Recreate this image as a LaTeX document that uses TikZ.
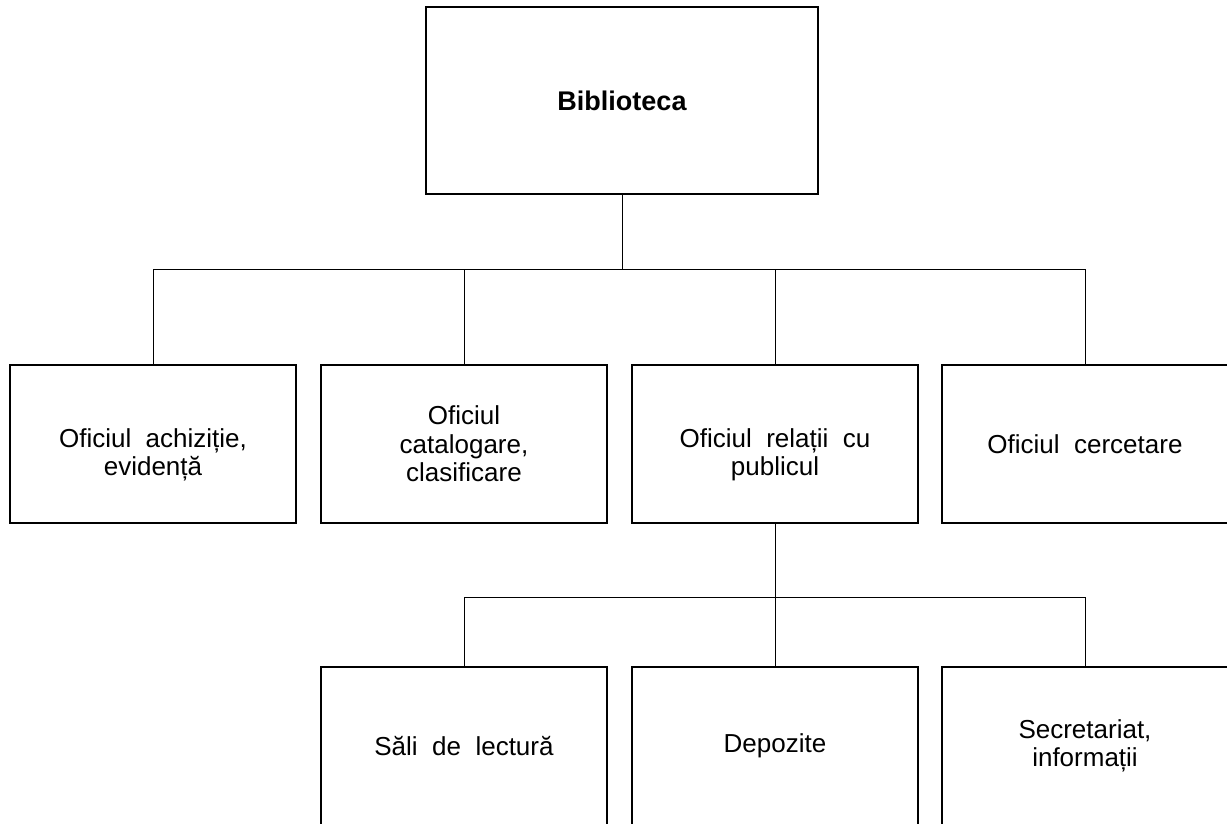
\documentclass[tikz,border=0pt]{standalone}
\usepackage{fontspec}
\setmainfont{Liberation Sans}[WordSpace=2]

\tikzset{
  oficiu/.style={draw, line width=0.6pt, rectangle, inner sep=0pt,
    minimum width=143pt, minimum height=79pt, align=center,
    font=\fontsize{13}{14.2}\selectfont},
  legatura/.style={line width=0.5pt}
}

\begin{document}
\begin{tikzpicture}[x=0.5pt,y=-0.5pt]
        \useasboundingbox (0,0) rectangle (1227,824);

        \node[oficiu, minimum width=196pt, minimum height=93.5pt,
          font=\fontsize{13.5}{15.5}\selectfont\bfseries] (bib) at (622,100.5) {Biblioteca};

        \node[oficiu] (achiz) at (153,444) {\rule{0pt}{20pt}Oficiul achiziție,\\evidență};
        \node[oficiu] (catal) at (464,444) {Oficiul\\catalogare,\\clasificare};
        \node[oficiu] (relatii) at (775,444) {\rule{0pt}{20pt}Oficiul relații cu\\publicul};
        \node[oficiu] (cerc) at (1085,444) {Oficiul cercetare};

        \node[oficiu] (sali) at (464,746) {Săli de lectură};
        \node[oficiu] (depoz) at (775,746) {Depozite};
        \node[oficiu] (secr) at (1085,746) {Secretariat,\\informații};

        \coordinate (bar1) at (622,269);
        \coordinate (bar2) at (775,597);

        \draw[legatura] (bib) -- (bib |- bar1);
        \draw[legatura] (achiz.north) -- (achiz.north |- bar1)
          -- (cerc.north |- bar1) -- (cerc.north);
        \draw[legatura] (catal.north) -- (catal.north |- bar1);
        \draw[legatura] (relatii.north) -- (relatii.north |- bar1);

        \draw[legatura] (relatii) -- (bar2);
        \draw[legatura] (sali.north) -- (sali.north |- bar2)
          -- (secr.north |- bar2) -- (secr.north);
        \draw[legatura] (depoz) -- (bar2);
\end{tikzpicture}
\end{document}
